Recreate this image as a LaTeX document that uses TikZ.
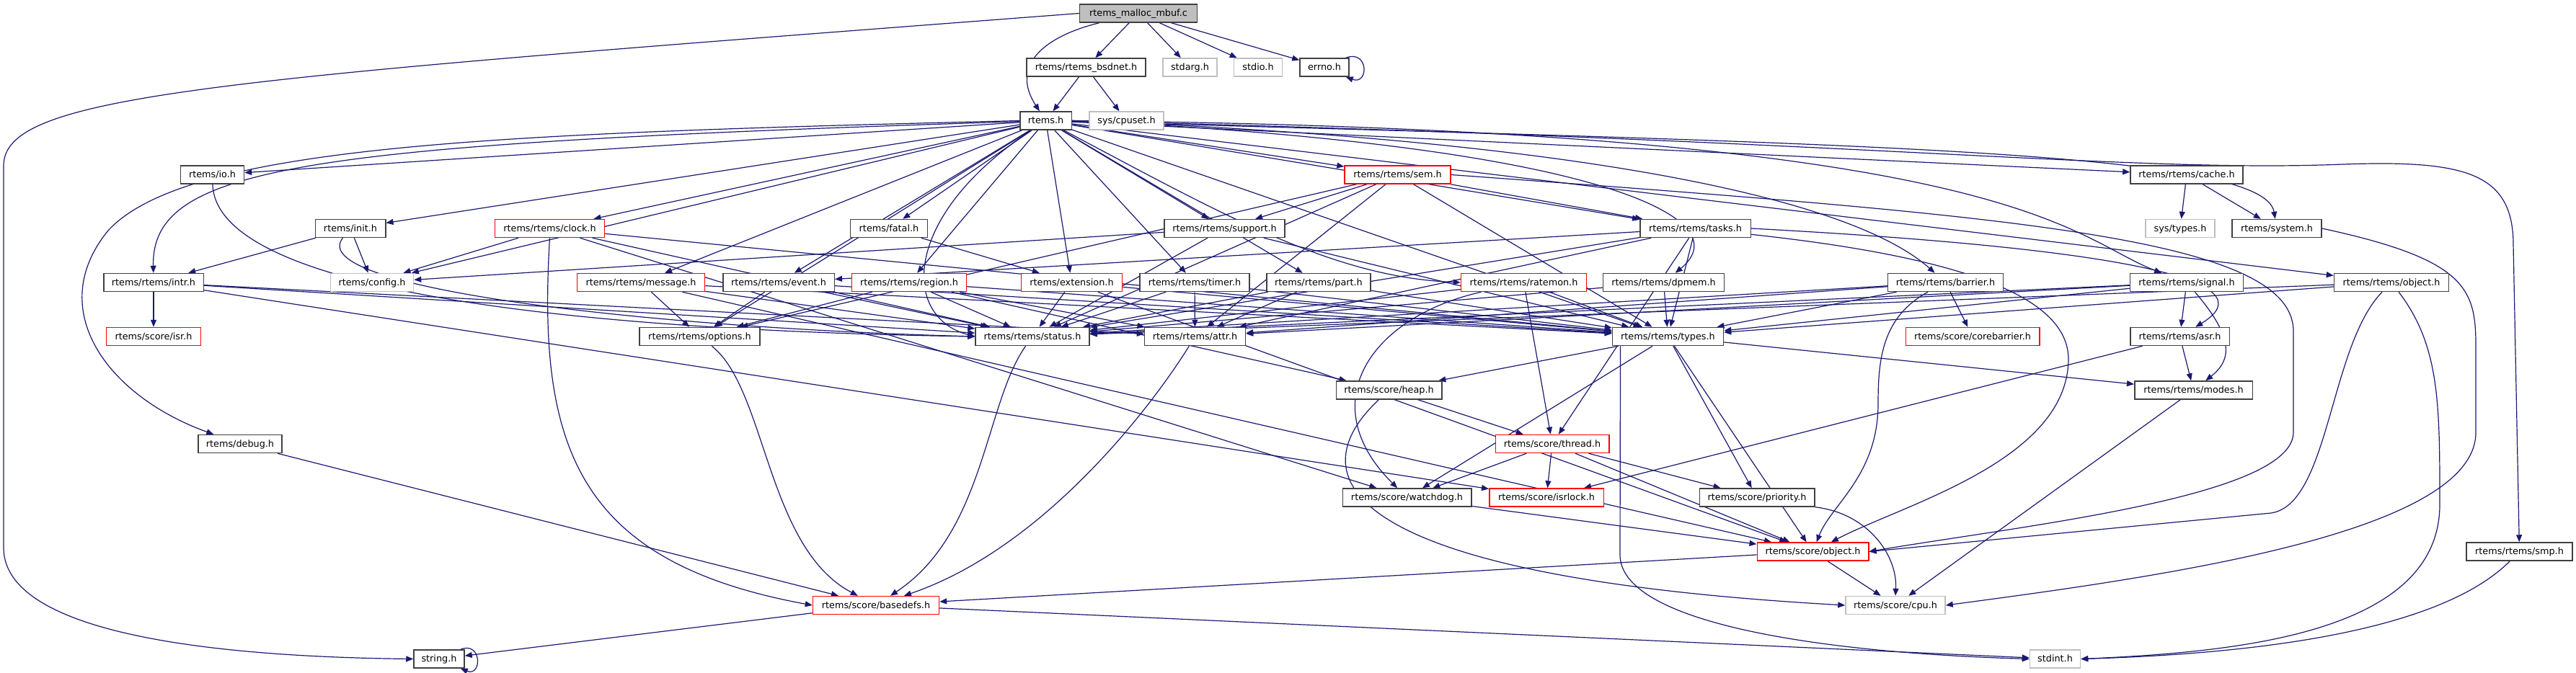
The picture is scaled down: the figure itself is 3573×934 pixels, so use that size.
\documentclass[tikz,border=0pt]{standalone}
\usepackage{fontspec}
\setmainfont{DejaVu Sans}
\usetikzlibrary{arrows.meta,backgrounds}
\definecolor{edgeblue}{HTML}{191970}
\definecolor{boxgray}{HTML}{BFBFBF}
\definecolor{boxdark}{HTML}{404040}

\begin{document}
\begin{tikzpicture}[x=1pt,y=-1pt,
	hdr/.style={draw=boxdark,line width=1.5pt,fill=white,minimum height=25pt,inner sep=0pt,
		text height=11pt,text depth=3pt,font=\fontsize{12.8}{15}\selectfont},
	hdrred/.style={hdr,draw=red},
	hdrgray/.style={hdr,draw=boxgray},
	hdrroot/.style={hdr,fill=boxgray},
	edge/.style={draw=edgeblue,line width=1.2pt,-{Triangle[length=10pt,width=8pt]}}]
	\useasboundingbox (0,0) rectangle (3573,934);
	%\draw[step=100pt,color=gray] (0,0) grid (3573,934);
	\node[hdrroot, minimum width=163pt] (mbuf) at (1579,18.5) {rtems\_malloc\_mbuf.c};
	\node[hdr, minimum width=165pt] (bsdnet) at (1506.5,93.5) {rtems/rtems\_bsdnet.h};
	\node[hdrgray, minimum width=75pt] (stdarg) at (1650.5,93.5) {stdarg.h};
	\node[hdrgray, minimum width=67pt] (stdio) at (1745,93.5) {stdio.h};
	\node[hdr, minimum width=68pt] (errno) at (1837,93.5) {errno.h};
	\node[hdr, minimum width=71.5pt] (rtems) at (1450.5,167.5) {rtems.h};
	\node[hdrgray, minimum width=103pt] (cpuset) at (1562.5,167.5) {sys/cpuset.h};
	\node[hdr, minimum width=88pt] (io) at (294.5,242.5) {rtems/io.h};
	\node[hdrred, minimum width=147pt] (sem) at (1938.5,242.5) {rtems/rtems/sem.h};
	\node[hdr, minimum width=156pt] (cache) at (3033,242.5) {rtems/rtems/cache.h};
	\node[hdr, minimum width=97.5pt] (init) at (486,317) {rtems/init.h};
	\node[hdrred, minimum width=152pt] (clock) at (762.5,317) {rtems/rtems/clock.h};
	\node[hdr, minimum width=107pt] (fatal) at (1233,317) {rtems/fatal.h};
	\node[hdr, minimum width=167pt] (support) at (1698.5,317) {rtems/rtems/support.h};
	\node[hdr, minimum width=153.5pt] (tasks) at (2351.5,317) {rtems/rtems/tasks.h};
	\node[hdrgray, minimum width=96pt] (systypes) at (3024,317) {sys/types.h};
	\node[hdr, minimum width=124pt] (system) at (3158,317) {rtems/system.h};
	\node[hdr, minimum width=138.5pt] (intr) at (213,392) {rtems/rtems/intr.h};
	\node[hdrgray, minimum width=115pt] (config) at (516,392) {rtems/config.h};
	\node[hdrred, minimum width=177pt] (message) at (889,392) {rtems/rtems/message.h};
	\node[hdr, minimum width=154.5pt] (event) at (1080,392) {rtems/rtems/event.h};
	\node[hdrred, minimum width=159pt] (region) at (1261,392) {rtems/rtems/region.h};
	\node[hdrred, minimum width=140pt] (extension) at (1486.5,392) {rtems/extension.h};
	\node[hdr, minimum width=152pt] (timer) at (1657,392) {rtems/rtems/timer.h};
	\node[hdr, minimum width=144pt] (part) at (1829,392) {rtems/rtems/part.h};
	\node[hdrred, minimum width=174pt] (ratemon) at (2113.5,392) {rtems/rtems/ratemon.h};
	\node[hdr, minimum width=168pt] (dpmem) at (2307.5,392) {rtems/rtems/dpmem.h};
	\node[hdr, minimum width=160pt] (barrier) at (2698.5,392) {rtems/rtems/barrier.h};
	\node[hdr, minimum width=157pt] (signal) at (3033,392) {rtems/rtems/signal.h};
	\node[hdr, minimum width=159pt] (robject) at (3317,392) {rtems/rtems/object.h};
	\node[hdrred, minimum width=131pt] (isr) at (213,467) {rtems/score/isr.h};
	\node[hdr, minimum width=167pt] (options) at (970.5,467) {rtems/rtems/options.h};
	\node[hdr, minimum width=158pt] (status) at (1432,467) {rtems/rtems/status.h};
	\node[hdr, minimum width=140pt] (attr) at (1657.5,467) {rtems/rtems/attr.h};
	\node[hdr, minimum width=154pt] (types) at (2313.5,467) {rtems/rtems/types.h};
	\node[hdrred, minimum width=185.5pt] (corebarrier) at (2736,467) {rtems/score/corebarrier.h};
	\node[hdr, minimum width=137.5pt] (asr) at (3023.5,467) {rtems/rtems/asr.h};
	\node[hdr, minimum width=146.5pt] (heap) at (1926.5,541.5) {rtems/score/heap.h};
	\node[hdr, minimum width=163.5pt] (modes) at (3042.5,541.5) {rtems/rtems/modes.h};
	\node[hdr, minimum width=116pt] (debug) at (333,616) {rtems/debug.h};
	\node[hdrred, minimum width=157.5pt] (thread) at (2153,616) {rtems/score/thread.h};
	\node[hdr, minimum width=178.5pt] (watchdog) at (1951.5,690.5) {rtems/score/watchdog.h};
	\node[hdrred, minimum width=158.5pt] (isrlock) at (2145,690.5) {rtems/score/isrlock.h};
	\node[hdr, minimum width=159.5pt] (priority) at (2437,690.5) {rtems/score/priority.h};
	\node[hdrred, minimum width=154.5pt] (sobject) at (2514.5,765.5) {rtems/score/object.h};
	\node[hdr, minimum width=147pt] (smp) at (3494.5,765.5) {rtems/rtems/smp.h};
	\node[hdrred, minimum width=175pt] (basedefs) at (1215,840) {rtems/score/basedefs.h};
	\node[hdrgray, minimum width=138pt] (cpu) at (2629,840) {rtems/score/cpu.h};
	\node[hdr, minimum width=70pt] (string) at (609,914.5) {string.h};
	\node[hdrgray, minimum width=70pt] (stdint) at (2850.5,914.5) {stdint.h};

	\begin{scope}[on background layer]
	% source file
	\draw[edge] (mbuf) .. controls (1450,50) and (1400,90) .. (rtems);
	\draw[edge] (mbuf) -- (bsdnet);
	\draw[edge] (mbuf) -- (stdarg);
	\draw[edge] (mbuf) -- (stdio);
	\draw[edge] (mbuf) -- (errno);
	\draw[edge] (mbuf.west) .. controls (300,110) and (5,130) .. (5,230) -- (5,760) .. controls (5,890) and (350,912) .. (string.west);
	\draw[edge] ([xshift=-5pt]errno.north east) .. controls +(32,-12) and +(32,12) .. ([xshift=-5pt]errno.south east);
	\draw[edge] (bsdnet) -- (rtems);
	\draw[edge] (bsdnet) -- (cpuset);
	% rtems.h
	\draw[edge] (rtems) -- (io);
	\draw[edge] (rtems) .. controls (420,200) and (210,230) .. (intr);
	\draw[edge] (rtems) -- (init);
	\draw[edge] (rtems) -- (config);
	\draw[edge] (rtems) -- (clock);
	\draw[edge] (rtems) -- (fatal);
	\draw[edge] (rtems) -- (message);
	\draw[edge] (rtems) -- (event);
	\draw[edge] (rtems) -- (region);
	\draw[edge] (rtems) -- (extension);
	\draw[edge] (rtems) -- (timer);
	\draw[edge] (rtems) -- (part);
	\draw[edge] (rtems) .. controls (1700,300) and (1850,385) .. (ratemon.west);
	\draw[edge] (rtems.east) .. controls (2200,200) and (2420,300) .. (dpmem);
	\draw[edge] (rtems) -- (sem);
	\draw[edge] (rtems) -- (support);
	\draw[edge] (rtems) -- (tasks);
	\draw[edge] (rtems.east) .. controls (2100,190) and (2550,260) .. (barrier);
	\draw[edge] (rtems) -- (cache);
	\draw[edge] (rtems) .. controls (2600,200) and (3140,210) .. (system);
	\draw[edge] (rtems.east) .. controls (2800,180) and (2870,330) .. (signal);
	\draw[edge] (rtems) -- (robject);
	\draw[edge] (rtems.east) .. controls (2600,195) and (2950,240) .. (3250,228) .. controls (3420,222) and (3486,240) .. (3486,340) -- (smp);
	\draw[edge] (rtems.west) .. controls (700,185) and (260,200) .. (150,320) .. controls (60,430) and (150,550) .. (debug);
	\draw[edge] (rtems) -- (options);
	\draw[edge] (rtems) .. controls (1250,300) and (1250,440) .. (status.west);
	\draw[edge] (rtems) -- (types);
	% io, init, intr, clock, fatal
	\draw[edge] (io) .. controls (300,420) and (900,460) .. (status.west);
	\draw[edge] (init) -- (intr);
	\draw[edge] (init) -- (config);
	\draw[edge] (init) .. controls (420,400) and (900,455) .. (status.west);
	\draw[edge] (intr) -- (isr);
	\draw[edge] (intr) -- (status);
	\draw[edge] (intr) -- (attr);
	\draw[edge] (intr) -- (isrlock);
	\draw[edge] (clock) -- (config);
	\draw[edge] (clock) -- (status);
	\draw[edge] (clock) -- (types);
	\draw[edge] (clock) -- (watchdog);
	\draw[edge] (clock.south) .. controls (745,620) and (800,780) .. (basedefs.west);
	\draw[edge] (fatal) -- (extension);
	% message, event, region, extension, timer, part
	\draw[edge] (message) -- (options);
	\draw[edge] (message) -- (status);
	\draw[edge] (message) -- (sobject);
	\draw[edge] (message) -- (types);
	\draw[edge] (event) -- (options);
	\draw[edge] (event) -- (status);
	\draw[edge] (event) -- (types);
	\draw[edge] (region) -- (options);
	\draw[edge] (region) -- (status);
	\draw[edge] (region) -- (attr);
	\draw[edge] (region) -- (heap);
	\draw[edge] (region) -- (types);
	\draw[edge] (extension) -- (status);
	\draw[edge] (extension) -- (sobject);
	\draw[edge] (extension) -- (types);
	\draw[edge] (timer) -- (status);
	\draw[edge] (timer) -- (attr);
	\draw[edge] (timer) -- (types);
	\draw[edge] (part) -- (status);
	\draw[edge] (part) -- (attr);
	\draw[edge] (part) -- (types);
	% ratemon, dpmem, sem, support, tasks
	\draw[edge] (ratemon) -- (status);
	\draw[edge] (ratemon) -- (types);
	\draw[edge] (ratemon) -- (thread);
	\draw[edge] (ratemon) .. controls (1900,440) and (1820,560) .. (watchdog);
	\draw[edge] (dpmem) -- (status);
	\draw[edge] (dpmem) -- (types);
	\draw[edge] (sem) -- (support);
	\draw[edge] (sem) -- (tasks);
	\draw[edge] (sem) -- (options);
	\draw[edge] (sem) -- (status);
	\draw[edge] (sem) -- (attr);
	\draw[edge] (sem) -- (types);
	\draw[edge] (sem.east) .. controls (2800,300) and (3181,330) .. (3181,460) -- (3181,600) .. controls (3181,690) and (2800,730) .. (sobject.east);
	\draw[edge] (support) -- (config);
	\draw[edge] (support) -- (status);
	\draw[edge] (support) -- (types);
	\draw[edge] (tasks) -- (event);
	\draw[edge] (tasks) -- (status);
	\draw[edge] (tasks) -- (attr);
	\draw[edge] (tasks) -- (types);
	\draw[edge] (tasks) -- (thread);
	\draw[edge] (tasks) .. controls (2750,360) and (2870,420) .. (2869,500) .. controls (2866,640) and (2640,700) .. (sobject);
	\draw[edge] (tasks.east) .. controls (2950,345) and (3150,390) .. (asr);
	% barrier, signal, object
	\draw[edge] (barrier) -- (corebarrier);
	\draw[edge] (barrier) -- (status);
	\draw[edge] (barrier) -- (attr);
	\draw[edge] (barrier) -- (types);
	\draw[edge] (barrier) .. controls (2610,440) and (2605,500) .. (2605,560) .. controls (2605,660) and (2540,700) .. (sobject);
	\draw[edge] (signal) -- (asr);
	\draw[edge] (signal) .. controls (3100,470) and (3095,500) .. (modes);
	\draw[edge] (signal) -- (status);
	\draw[edge] (signal) -- (attr);
	\draw[edge] (signal) -- (types);
	\draw[edge] (robject) -- (types);
	\draw[edge] (robject) -- (status);
	\draw[edge] (robject) .. controls (3231,480) and (3231,700) .. (3150,712) -- (sobject.east);
	\draw[edge] (robject) .. controls (3384,480) and (3384,560) .. (3384,700) .. controls (3384,880) and (3100,905) .. (stdint.east);
	% cache, system, smp
	\draw[edge] (cache) -- (systypes);
	\draw[edge] (cache) -- (system);
	\draw[edge] (system.east) .. controls (3420,360) and (3434,400) .. (3434,480) -- (3434,600) .. controls (3434,740) and (3000,800) .. (cpu.east);
	\draw[edge] (smp) .. controls (3400,860) and (3200,905) .. (stdint.east);
	% asr, types
	\draw[edge] (asr) -- (modes);
	\draw[edge] (asr) -- (isrlock);
	\draw[edge] (types) -- (heap);
	\draw[edge] (types) -- (watchdog);
	\draw[edge] (types) -- (priority);
	\draw[edge] (types) -- (sobject);
	\draw[edge] (types) -- (modes);
	\draw[edge] ([xshift=-66pt]types.south) -- (2247,770) .. controls (2247,860) and (2500,905) .. (stdint.west);
	% score
	\draw[edge] (heap) -- (thread);
	\draw[edge] (heap) .. controls (1800,660) and (1850,800) .. (cpu.west);
	\draw[edge] (thread) -- (watchdog);
	\draw[edge] (thread) -- (isrlock);
	\draw[edge] (thread) -- (priority);
	\draw[edge] (thread) -- (sobject);
	\draw[edge] (watchdog) -- (sobject);
	\draw[edge] (priority.south east) .. controls (2590,712) and (2632,770) .. (cpu.north);
	\draw[edge] (sobject) -- (cpu);
	\draw[edge] (sobject) -- (basedefs);
	\draw[edge] (modes) -- (cpu);
	% basedefs
	\draw[edge] (options) .. controls (1063,540) and (1063,760) .. (basedefs);
	\draw[edge] (status) .. controls (1366,560) and (1366,740) .. (basedefs);
	\draw[edge] (attr) .. controls (1600,560) and (1450,760) .. (basedefs);
	\draw[edge] (debug) -- (basedefs);
	\draw[edge] (basedefs) -- (string);
	\draw[edge] (basedefs) -- (stdint);
	\draw[edge] ([xshift=-6pt]string.north east) .. controls +(30,-12) and +(30,12) .. ([xshift=-6pt]string.south east);
	\end{scope}
\end{tikzpicture}
\end{document}
